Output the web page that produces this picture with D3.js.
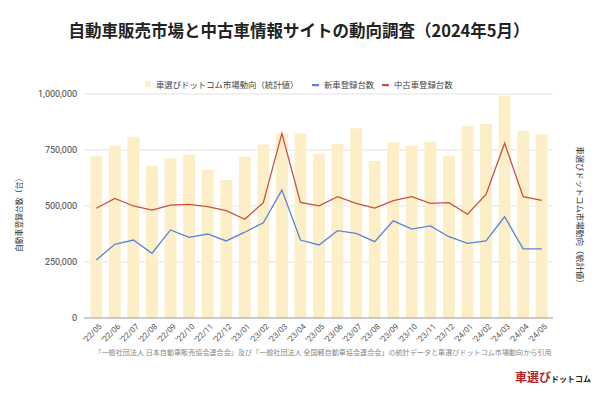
<!DOCTYPE html>
<html>
<head>
<meta charset="utf-8">
<script src="https://cdn.jsdelivr.net/npm/d3@7"></script>
<style>
  body { margin: 0; background: #fff; }
  svg { font-family: "Noto Sans CJK JP", "Noto Sans", sans-serif; }
  .yaxis text { fill: #444; font-size: 9px; font-family: Roboto, "Noto Sans", sans-serif; }
  .xaxis text { fill: #555; font-size: 8px; font-family: Roboto, "Noto Sans", sans-serif; }
</style>
</head>
<body>
<div id="chart"></div>
<script>
const months = ["'22/05","'22/06","'22/07","'22/08","'22/09","'22/10","'22/11","'22/12",
  "'23/01","'23/02","'23/03","'23/04","'23/05","'23/06","'23/07","'23/08","'23/09","'23/10",
  "'23/11","'23/12","'24/01","'24/02","'24/03","'24/04","'24/05"];
// 車選びドットコム市場動向（統計値） - right axis, no ticks shown
const siteTrend = [723, 769, 809, 680, 713, 729, 661, 616, 720, 775, 825, 824, 732, 777,
  847, 701, 784, 769, 787, 723, 857, 866, 992, 836, 820];
// 新車登録台数
const newCars = [259000, 329000, 348000, 289000, 393000, 360000, 375000, 344000, 383000,
  425000, 571000, 348000, 326000, 390000, 378000, 341000, 434000, 397000, 411000, 363000,
  333000, 344000, 452000, 309000, 309000];
// 中古車登録台数
const usedCars = [490000, 534000, 500000, 482000, 504000, 507000, 497000, 479000, 441000,
  515000, 824000, 516000, 501000, 542000, 512000, 491000, 524000, 542000, 512000, 515000,
  463000, 552000, 780000, 542000, 525000];
const yTicks = [0, 250000, 500000, 750000, 1000000];

const W = 600, H = 400;
const margin = { left: 84, right: 47, top: 94, bottom: 82 };

const svg = d3.select("#chart").append("svg")
  .attr("width", W).attr("height", H);

const x = d3.scaleBand()
  .domain(months)
  .range([margin.left + 3, W - margin.right - 2])
  .paddingInner(0.36)
  .paddingOuter(0.18);
const y = d3.scaleLinear()
  .domain([0, 1000000])
  .range([H - margin.bottom, margin.top]);
const yRight = d3.scaleLinear()
  .domain([0, 1000])
  .range([H - margin.bottom, margin.top]);

// gridlines
svg.append("g")
  .selectAll("line").data(yTicks.slice(1)).enter()
  .append("line")
  .attr("x1", margin.left).attr("x2", W - margin.right)
  .attr("y1", d => y(d)).attr("y2", d => y(d))
  .attr("stroke", "#e3e3e3").attr("stroke-width", 1);

// bars
svg.append("g")
  .selectAll("rect").data(siteTrend).enter()
  .append("rect")
  .attr("x", (d, i) => x(months[i]))
  .attr("width", x.bandwidth())
  .attr("y", d => yRight(d))
  .attr("height", d => yRight(0) - yRight(d))
  .attr("fill", "#fcefc8");

// baseline
svg.append("line")
  .attr("x1", margin.left).attr("x2", W - margin.right)
  .attr("y1", y(0)).attr("y2", y(0))
  .attr("stroke", "#999").attr("stroke-width", 1);

const cx = (d, i) => x(months[i]) + x.bandwidth() / 2;
const line = d3.line().x(cx).y(d => y(d));

svg.append("path").datum(usedCars)
  .attr("d", line).attr("fill", "none")
  .attr("stroke", "#c8513f").attr("stroke-width", 1.3);
svg.append("path").datum(newCars)
  .attr("d", line).attr("fill", "none")
  .attr("stroke", "#5a84da").attr("stroke-width", 1.3);

// y axis
const yAxis = d3.axisLeft(y)
  .tickValues(yTicks)
  .tickSize(0)
  .tickPadding(6)
  .tickFormat(d3.format(","));
svg.append("g").attr("class", "yaxis")
  .attr("transform", `translate(${margin.left - 1},0)`)
  .call(yAxis)
  .call(g => g.select(".domain").remove());

// x axis, labels slanted 45deg ending at the tick
const xAxis = d3.axisBottom(x).tickSize(0);
svg.append("g").attr("class", "xaxis")
  .attr("transform", `translate(0,${y(0)})`)
  .call(xAxis)
  .call(g => g.select(".domain").remove())
  .selectAll("text")
  .attr("x", 0).attr("y", 0).attr("dx", 0).attr("dy", "0.35em")
  .attr("text-anchor", "end")
  .attr("transform", "translate(4,7) rotate(-45)");

// title
svg.append("text")
  .attr("x", 299).attr("y", 37)
  .attr("text-anchor", "middle")
  .attr("font-size", 16.5).attr("font-weight", "bold").attr("fill", "#222")
  .text("自動車販売市場と中古車情報サイトの動向調査（2024年5月）");

// legend
const legend = [
  { label: "車選びドットコム市場動向（統計値）", color: "#fcefc8", type: "box", x: 145 },
  { label: "新車登録台数", color: "#5a84da", type: "dash", x: 312 },
  { label: "中古車登録台数", color: "#c8513f", type: "dash", x: 382 }
];
const lg = svg.append("g").selectAll("g").data(legend).enter().append("g")
  .attr("transform", d => `translate(${d.x},85)`);
lg.append("rect")
  .attr("x", 0)
  .attr("y", d => d.type === "box" ? -4 : -1)
  .attr("width", d => d.type === "box" ? 6 : 7)
  .attr("height", d => d.type === "box" ? 6 : 2.2)
  .attr("fill", d => d.color);
lg.append("text")
  .attr("x", d => d.type === "box" ? 11 : 12).attr("y", 3)
  .attr("font-size", 8.4).attr("fill", "#444")
  .text(d => d.label);

// axis titles
svg.append("text")
  .attr("transform", `translate(22,213) rotate(-90)`)
  .attr("text-anchor", "middle")
  .attr("font-size", 7.8).attr("fill", "#333")
  .text("自動車登録台数（台）");
svg.append("text")
  .attr("transform", `translate(577,217) rotate(90)`)
  .attr("text-anchor", "middle")
  .attr("font-size", 8.3).attr("fill", "#333")
  .text("車選びドットコム市場動向（統計値）");

// source note
svg.append("text")
  .attr("x", 323).attr("y", 355)
  .attr("text-anchor", "middle")
  .attr("font-size", 7.1).attr("fill", "#888")
  .text("「一般社団法人 日本自動車販売協会連合会」及び「一般社団法人 全国軽自動車協会連合会」の統計データと車選びドットコム市場動向から引用");

// logo
const logo = svg.append("text")
  .attr("x", 515).attr("y", 382)
  .attr("font-weight", "bold");
logo.append("tspan").attr("font-size", 12).attr("fill", "#b3262a").text("車選び");
logo.append("tspan").attr("font-size", 8).attr("fill", "#222").text("ドットコム");
</script>
</body>
</html>
